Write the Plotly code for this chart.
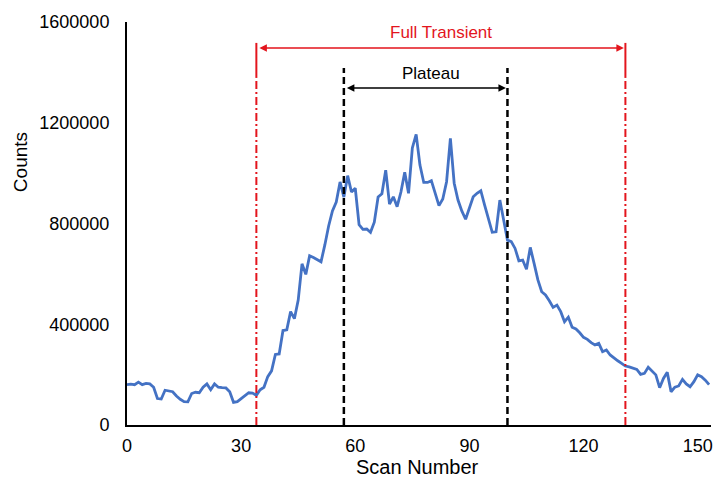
import plotly.graph_objects as go

# Counts per scan for one transient (scan 0 .. 153)
scans = list(range(0, 154))
counts = [
    160000, 162000, 160000, 170000, 160000, 165000, 163000, 150000, 105000, 103000,
    138000, 134000, 132000, 115000, 102000, 93000, 92000, 125000, 130000, 128000,
    150000, 163000, 140000, 163000, 150000, 148000, 147000, 132000, 90000, 93000,
    105000, 115000, 128000, 127000, 118000, 140000, 150000, 192000, 215000, 280000,
    282000, 375000, 378000, 450000, 422000, 496000, 640000, 598000, 672000, 665000,
    658000, 648000, 715000, 790000, 850000, 885000, 965000, 905000, 990000, 925000,
    940000, 795000, 777000, 778000, 765000, 805000, 905000, 918000, 1012000, 877000,
    906000, 867000, 925000, 1003000, 920000, 1100000, 1154000, 1032000, 963000, 963000,
    970000, 920000, 871000, 897000, 966000, 1138000, 960000, 893000, 850000, 817000,
    863000, 906000, 920000, 930000, 873000, 820000, 765000, 767000, 893000, 814000,
    734000, 728000, 701000, 652000, 655000, 618000, 705000, 642000, 576000, 529000,
    516000, 493000, 467000, 476000, 450000, 410000, 428000, 388000, 381000, 366000,
    348000, 340000, 327000, 318000, 324000, 291000, 298000, 278000, 265000, 255000,
    245000, 234000, 231000, 227000, 221000, 201000, 205000, 229000, 214000, 199000,
    148000, 185000, 209000, 132000, 150000, 155000, 181000, 163000, 152000, 172000,
    199000, 192000, 178000, 160000,
]

# Window boundaries (scan numbers)
transient_bounds = [34, 131]
plateau_bounds = [57, 100]

x_ticks = [0, 30, 60, 90, 120, 150]
y_ticks = [0, 400000, 800000, 1200000, 1600000]

FONT = "Liberation Sans, Arial, sans-serif"
RED = "#E3151D"
BLUE = "#4472C4"

fig = go.Figure()

fig.add_trace(go.Scatter(
    x=scans, y=counts, mode="lines",
    line=dict(color=BLUE, width=2.8),
    hoverinfo="skip", showlegend=False,
))

# Full transient boundaries: dash-dot below, solid cap on top
for xb in transient_bounds:
    fig.add_shape(type="line", x0=xb, x1=xb, y0=0, y1=1378000, xref="x", yref="y",
                  line=dict(color=RED, width=2, dash="8px,3px,2px,3px"))
    fig.add_shape(type="line", x0=xb, x1=xb, y0=1378000, y1=1517000, xref="x", yref="y",
                  line=dict(color=RED, width=2))

# Plateau boundaries
for xb in plateau_bounds:
    fig.add_shape(type="line", x0=xb, x1=xb, y0=0, y1=1417000, xref="x", yref="y",
                  line=dict(color="black", width=2.5, dash="7px,4px"))

# Double-headed arrows
fig.add_annotation(x=transient_bounds[1] - 0.4, y=1497000, ax=transient_bounds[0] + 0.4, ay=1497000,
                   xref="x", yref="y", axref="x", ayref="y", text="",
                   showarrow=True, arrowhead=2, arrowside="end+start",
                   arrowsize=1, arrowwidth=1.5, arrowcolor=RED)
fig.add_annotation(x=plateau_bounds[1] - 0.4, y=1338000, ax=plateau_bounds[0] + 0.4, ay=1338000,
                   xref="x", yref="y", axref="x", ayref="y", text="",
                   showarrow=True, arrowhead=2, arrowside="end+start",
                   arrowsize=1, arrowwidth=1.5, arrowcolor="black")

fig.add_annotation(x=sum(transient_bounds) / 2, y=1560000, xref="x", yref="y",
                   text="Full Transient", showarrow=False,
                   xanchor="center", yanchor="middle",
                   font=dict(family=FONT, size=17, color=RED))
fig.add_annotation(x=sum(plateau_bounds) / 2 + 1.5, y=1397000, xref="x", yref="y",
                   text="Plateau", showarrow=False,
                   xanchor="center", yanchor="middle",
                   font=dict(family=FONT, size=17, color="black"))

# Axis titles
fig.add_annotation(x=-0.181, y=0.653, xref="paper", yref="paper",
                   text="Counts", textangle=-90, showarrow=False,
                   xanchor="center", yanchor="middle",
                   font=dict(family=FONT, size=19, color="black"))
fig.add_annotation(x=0.498, y=-0.104, xref="paper", yref="paper",
                   text="Scan Number", showarrow=False,
                   xanchor="center", yanchor="middle",
                   font=dict(family=FONT, size=20, color="black"))

fig.update_xaxes(
    range=[0, 153.5], tickvals=x_ticks, ticktext=[str(v) for v in x_ticks],
    showgrid=False, zeroline=False, showline=True, linecolor="black", linewidth=2,
    ticks="", tickfont=dict(family=FONT, size=18, color="black"),
    ticklabelstandoff=3, ticklabeloverflow="allow",
)
fig.update_yaxes(
    range=[0, 1600000], tickvals=y_ticks, ticktext=[str(v) for v in y_ticks],
    showgrid=False, zeroline=False, showline=True, linecolor="black", linewidth=2,
    ticks="", tickfont=dict(family=FONT, size=18, color="black"),
    ticklabelstandoff=12, ticklabeloverflow="allow",
)

fig.update_layout(
    width=714, height=481,
    margin=dict(l=127, r=1, t=22, b=56),
    paper_bgcolor="white", plot_bgcolor="white",
    font=dict(family=FONT, color="black"),
)

fig.write_html("out.html")
